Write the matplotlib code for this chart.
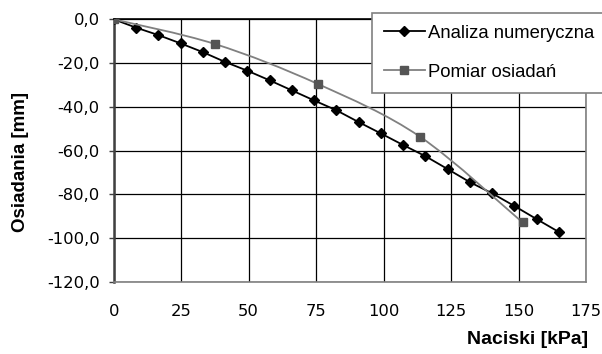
import matplotlib
matplotlib.use("Agg")
import matplotlib.pyplot as plt
from matplotlib.path import Path
from matplotlib.patches import PathPatch
from matplotlib.lines import Line2D
from matplotlib.ticker import FuncFormatter

# data
naciski_num = [0, 8.25, 16.5, 24.75, 33, 41.25, 49.5, 57.75, 66, 74.25, 82.5,
               90.75, 99, 107.25, 115.5, 123.75, 132, 140.25, 148.5, 156.75, 165]
osiad_num = [0, -3.8, -7.2, -11.0, -15.0, -19.5, -23.5, -27.9, -32.5, -37.1, -41.6,
             -47.0, -52.2, -57.5, -62.6, -68.5, -74.5, -79.6, -85.4, -91.4, -97.3]
naciski_pom = [0, 37.5, 75.7, 113.5, 151.5]
osiad_pom = [0, -11.3, -29.6, -53.7, -92.9]
x_ticks = [0, 25, 50, 75, 100, 125, 150, 175]
y_ticks = [0, -20, -40, -60, -80, -100, -120]
labels = ["Analiza numeryczna", "Pomiar osiadań"]

plt.rcParams['font.family'] = ['Liberation Sans', 'DejaVu Sans']


def smooth_path(xs, ys):
    """Excel-like smoothed line as cubic bezier segments through the points."""
    pts = list(zip(xs, ys))
    verts = [pts[0]]
    codes = [Path.MOVETO]
    n = len(pts)
    for i in range(n - 1):
        p0 = pts[i - 1] if i > 0 else pts[i]
        p1 = pts[i]
        p2 = pts[i + 1]
        p3 = pts[i + 2] if i + 2 < n else pts[i + 1]
        c1 = (p1[0] + (p2[0] - p0[0]) / 6, p1[1] + (p2[1] - p0[1]) / 6)
        c2 = (p2[0] - (p3[0] - p1[0]) / 6, p2[1] - (p3[1] - p1[1]) / 6)
        verts += [c1, c2, p2]
        codes += [Path.CURVE4] * 3
    return Path(verts, codes)


fig = plt.figure(figsize=(6.02, 3.54), dpi=100)
ax = fig.add_axes([0.1889, 0.2042, 0.9734 - 0.1889, 0.9455 - 0.2042])

gray_line = '#808080'
gray_mark = '#555555'

ax.plot(naciski_num, osiad_num, color='black', lw=1.3, marker='D',
        markersize=5.5, markerfacecolor='black', markeredgecolor='black', zorder=3)
ax.add_patch(PathPatch(smooth_path(naciski_pom, osiad_pom), fill=False,
                       edgecolor=gray_line, lw=1.3, zorder=4))
ax.plot(naciski_pom, osiad_pom, linestyle='none', marker='s', markersize=5.8,
        markerfacecolor=gray_mark, markeredgecolor=gray_mark, zorder=5)

ax.set_xlim(0, 175)
ax.set_ylim(-120, 0)
ax.set_xticks(x_ticks)
ax.set_yticks(y_ticks)
ax.yaxis.set_major_formatter(FuncFormatter(lambda v, p: f"{v:.1f}".replace('.', ',')))
ax.grid(True, color='black', lw=0.9)
ax.set_axisbelow(True)

for side in ['top', 'right', 'bottom']:
    ax.spines[side].set_color(gray_line)
    ax.spines[side].set_linewidth(1.2)
ax.spines['top'].set_color('black')
ax.spines['left'].set_color('#404040')
ax.spines['left'].set_linewidth(1.8)

ax.tick_params(axis='x', length=0, pad=16, labelsize=11.8, labelfontfamily='DejaVu Sans')
ax.tick_params(axis='y', length=3.6, width=1, color='#404040', pad=6.5,
               labelsize=11.8, labelfontfamily='DejaVu Sans')

fig.text(20.5 / 602, 1 - 161.5 / 354, "Osiadania [mm]", rotation=90,
         fontsize=13.5, fontweight='bold', ha='center', va='center')
fig.text(588 / 602, 1 - 340 / 354, "Naciski [kPa]",
         fontsize=14, fontweight='bold', ha='right', va='center')

handles = [
    Line2D([], [], color='black', lw=1.3, marker='D', markersize=5.5),
    Line2D([], [], color=gray_line, lw=1.3, marker='s', markersize=5.8,
           markerfacecolor=gray_mark, markeredgecolor=gray_mark),
]
leg = fig.legend(handles, labels, loc='upper left',
                 bbox_to_anchor=(372 / 602, 1 - 12.5 / 354), fontsize=13.3,
                 frameon=True, fancybox=False, framealpha=1, edgecolor=gray_line,
                 handlelength=2.2, handletextpad=0.18, borderpad=0.65,
                 labelspacing=1.2, borderaxespad=0)
leg.get_frame().set_linewidth(1.2)

fig.savefig("out.png", dpi=100)
